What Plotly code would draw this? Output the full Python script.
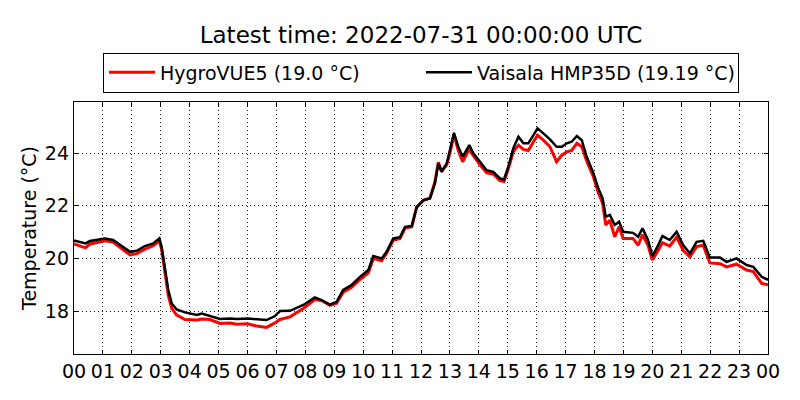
import pandas as pd
import plotly.graph_objects as go

# hours since 2022-07-30 00:00 UTC
hours = [0.0, 0.25, 0.4, 0.55, 0.8, 1.07, 1.35, 1.6, 1.94, 2.17, 2.45, 2.74, 2.95, 3.03,
         3.15, 3.26, 3.38, 3.55, 3.84, 4.25, 4.42, 4.7, 5.05, 5.4, 5.63, 6.0, 6.32, 6.66,
         6.95, 7.12, 7.47, 7.93, 8.33, 8.56, 8.85, 9.08, 9.31, 9.6, 9.89, 10.18, 10.35,
         10.64, 10.81, 11.04, 11.27, 11.45, 11.68, 11.85, 12.08, 12.31, 12.48, 12.6, 12.71,
         12.89, 13.0, 13.14, 13.29, 13.44, 13.67, 13.81, 14.04, 14.27, 14.5, 14.73, 14.87,
         15.02, 15.19, 15.37, 15.54, 15.71, 15.89, 16.03, 16.23, 16.46, 16.69, 16.87, 17.04,
         17.21, 17.39, 17.56, 17.73, 17.96, 18.13, 18.28, 18.39, 18.53, 18.7, 18.85, 18.99,
         19.33, 19.51, 19.66, 19.85, 20.0, 20.2, 20.35, 20.6, 20.84, 21.07, 21.3, 21.53,
         21.76, 21.99, 22.34, 22.57, 22.91, 23.26, 23.49, 23.78, 24.0]

hygrovue = [20.55, 20.45, 20.4, 20.55, 20.6, 20.67, 20.62, 20.4, 20.13, 20.18, 20.35, 20.48,
            20.67, 20.35, 19.4, 18.6, 18.1, 17.85, 17.68, 17.66, 17.7, 17.68, 17.53, 17.55,
            17.5, 17.52, 17.43, 17.38, 17.55, 17.68, 17.78, 18.1, 18.44, 18.4, 18.22, 18.3,
            18.72, 18.9, 19.2, 19.45, 20.0, 19.91, 20.2, 20.7, 20.75, 21.15, 21.2, 21.95,
            22.2, 22.3, 22.9, 23.65, 23.3, 23.55, 24.0, 24.7, 24.1, 23.67, 24.15, 23.9,
            23.55, 23.25, 23.2, 22.95, 22.92, 23.4, 24.05, 24.3, 24.14, 24.1, 24.43, 24.68,
            24.49, 24.24, 23.67, 23.92, 24.05, 24.1, 24.37, 24.24, 23.7, 23.1, 22.5, 22.1,
            21.27, 21.45, 20.82, 21.2, 20.76, 20.76, 20.5, 20.9, 20.5, 19.94, 20.3, 20.6,
            20.47, 20.8, 20.3, 20.06, 20.45, 20.5, 19.83, 19.8, 19.68, 19.78, 19.56, 19.5,
            19.05, 19.0]

vaisala = [20.68, 20.6, 20.57, 20.66, 20.7, 20.76, 20.7, 20.5, 20.25, 20.29, 20.47, 20.57,
           20.76, 20.44, 19.56, 18.8, 18.29, 18.06, 17.95, 17.85, 17.91, 17.81, 17.7, 17.72,
           17.7, 17.72, 17.7, 17.66, 17.81, 18.0, 18.01, 18.23, 18.52, 18.42, 18.25, 18.35,
           18.8, 18.99, 19.3, 19.56, 20.09, 20.0, 20.25, 20.76, 20.8, 21.2, 21.23, 21.94,
           22.21, 22.28, 22.85, 23.61, 23.29, 23.61, 24.11, 24.77, 24.24, 23.86, 24.3, 23.99,
           23.67, 23.35, 23.29, 23.04, 23.0, 23.48, 24.18, 24.62, 24.37, 24.37, 24.68, 24.94,
           24.75, 24.52, 24.24, 24.24, 24.37, 24.43, 24.65, 24.49, 23.86, 23.25, 22.66, 22.28,
           21.58, 21.65, 21.27, 21.39, 21.01, 20.97, 20.82, 21.14, 20.7, 20.09, 20.5, 20.85,
           20.7, 21.01, 20.5, 20.19, 20.63, 20.67, 20.03, 20.03, 19.87, 20.0, 19.75, 19.68,
           19.3, 19.19]

start = pd.Timestamp("2022-07-30 00:00:00")
times = start + pd.to_timedelta(hours, unit="h")

font = "DejaVu Sans"

fig = go.Figure()
fig.add_trace(go.Scatter(x=times, y=hygrovue, mode="lines",
                         line=dict(color="#ff0000", width=3),
                         name="HygroVUE5 (19.0 °C)"))
fig.add_trace(go.Scatter(x=times, y=vaisala, mode="lines",
                         line=dict(color="#000000", width=2.5),
                         name="Vaisala HMP35D (19.19 °C)"))

axis_common = dict(
    showline=True, linecolor="black", linewidth=1.3, mirror="allticks",
    ticks="inside", ticklen=4, tickcolor="black",
    showgrid=True, gridcolor="#222222", gridwidth=1, griddash="1px,3px",
    zeroline=False, automargin=False,
    tickfont=dict(family=font, size=19, color="black"),
)

# page has an 8px body margin, so the figure is 792x392 and sits at (8, 8)
fig.update_layout(
    width=792, height=392,
    margin=dict(l=66, r=32, t=94, b=46),
    paper_bgcolor="white", plot_bgcolor="white",
    font=dict(family=font, color="black"),
    title=dict(text="Latest time: 2022-07-31 00:00:00 UTC",
               x=0.5, xref="paper", xanchor="center",
               y=1 - 27 / 392, yanchor="middle",
               font=dict(family=font, size=23, color="black")),
    legend=dict(orientation="h", x=0.5, xanchor="center", y=1.117, yanchor="middle",
                bordercolor="black", borderwidth=1, bgcolor="white",
                itemwidth=46, entrywidth=256, entrywidthmode="pixels",
                font=dict(family=font, size=19, color="black")),
    xaxis=dict(range=[start, start + pd.Timedelta(hours=24)],
               dtick=3600000, tickformat="%H", **axis_common),
    yaxis=dict(range=[16.37, 25.94], dtick=2, tick0=18,
               title=dict(text="Temperature (°C)", standoff=3,
                          font=dict(family=font, size=19, color="black")),
               **axis_common),
)

fig.write_html("out.html")
